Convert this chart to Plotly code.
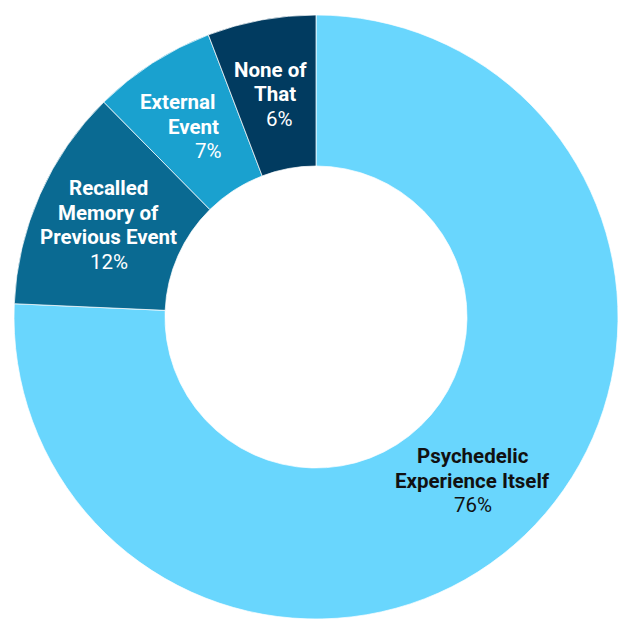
import math
import plotly.graph_objects as go

labels = ["Psychedelic Experience Itself", "Recalled Memory of Previous Event",
          "External Event", "None of That"]
label_lines = [["Psychedelic", "Experience Itself"],
               ["Recalled", "Memory of", "Previous Event"],
               ["External", "Event"],
               ["None of", "That"]]
values = [75.7, 11.9, 6.6, 5.8]
pct_text = ["76%", "12%", "7%", "6%"]
colors = ["#69D6FD", "#0A6A92", "#1AA1CF", "#013B60"]
text_colors = ["#111111", "#FFFFFF", "#FFFFFF", "#FFFFFF"]
line_skew = [0, 0, 15.5, 4.5]  # horizontal offset per text line (px), style only

W, H = 619, 619
ML, MT, MR, MB = 13, 15, 0, 0
HOLE = 0.5
FONT_SIZE = 20.5
LINE_H = 24.5

fig = go.Figure(go.Pie(
    labels=labels,
    values=values,
    hole=HOLE,
    sort=False,
    direction="clockwise",
    rotation=0,
    marker=dict(colors=colors, line=dict(color="rgba(255,255,255,0.7)", width=1)),
    textinfo="none",
    hoverinfo="label+percent",
    showlegend=False,
))

area_w = W - ML - MR
area_h = H - MT - MB
R = min(area_w, area_h) / 2.0
r_txt = R * (1 + HOLE) / 2.0
total = sum(values)
cum = 0.0
annotations = []
for lines, v, p, col, sk in zip(label_lines, values, pct_text, text_colors, line_skew):
    mid = (cum + v / 2.0) / total
    cum += v
    th = 2 * math.pi * mid
    x = 0.5 + r_txt * math.sin(th) / area_w
    y = 0.5 + r_txt * math.cos(th) / area_h
    texts = [f"<b>{t}</b>" for t in lines] + [p]
    n = len(texts)
    for i, t in enumerate(texts):
        off = i - (n - 1) / 2.0
        annotations.append(dict(
            x=x, y=y, xref="paper", yref="paper",
            xanchor="center", yanchor="middle",
            xshift=off * sk, yshift=-off * LINE_H,
            text=t, showarrow=False,
            font=dict(family="Roboto", size=FONT_SIZE, color=col),
        ))

fig.update_layout(
    width=W, height=H,
    margin=dict(l=ML, r=MR, t=MT, b=MB),
    paper_bgcolor="white",
    plot_bgcolor="white",
    annotations=annotations,
)

fig.write_html("out.html")
